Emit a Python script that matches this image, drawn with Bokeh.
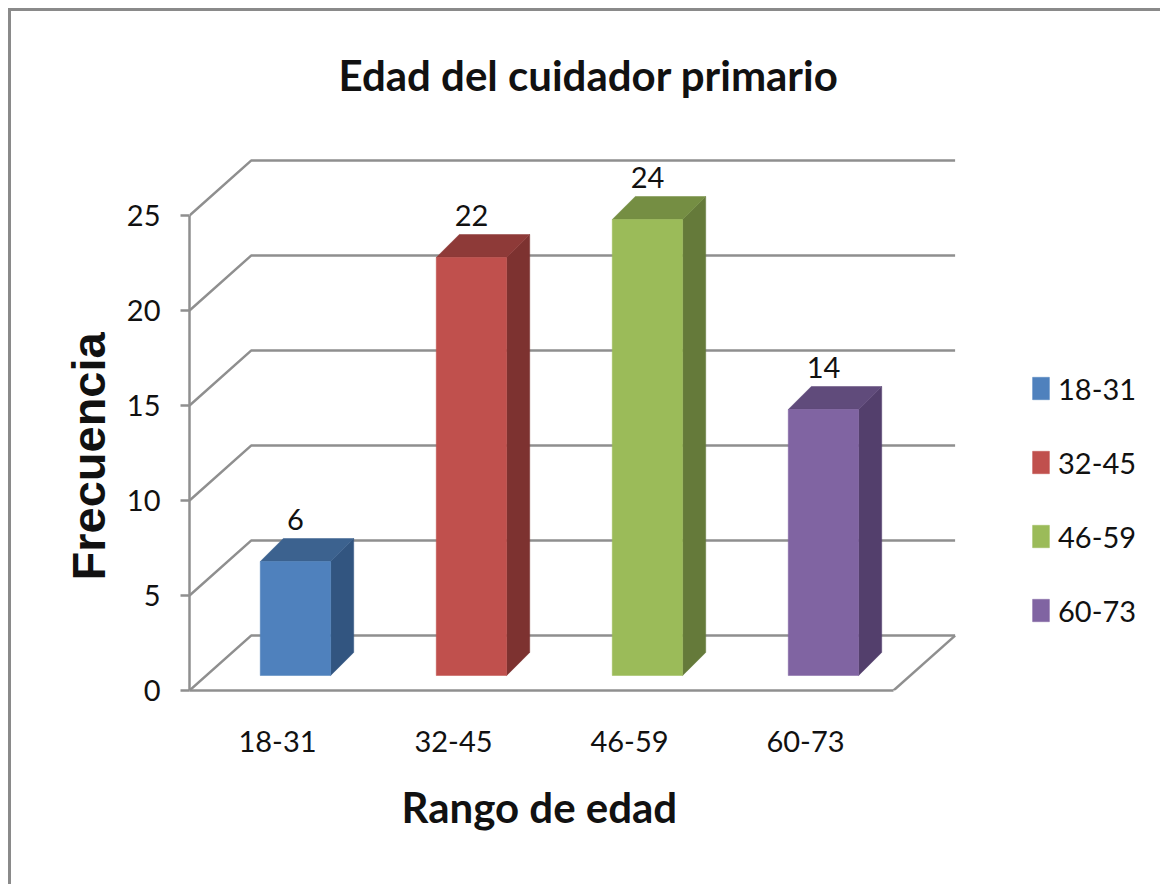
from bokeh.embed import file_html
from bokeh.resources import INLINE
from bokeh.plotting import figure
from bokeh.models import FixedTicker, Legend, LegendItem, LinearAxis, Range1d, Title
from bokeh.core.properties import value

# Chart data
categories = ["18-31", "32-45", "46-59", "60-73"]
frequencies = [6, 22, 24, 14]
y_ticks = [0, 5, 10, 15, 20, 25]

# Face colours of the bars: front, top, side
front_colors = ["#4f81bd", "#c0504d", "#9bbb59", "#8064a2"]
top_colors = ["#3c628f", "#8e3a38", "#758e43", "#604b7b"]
side_colors = ["#325580", "#7d3230", "#657a3a", "#533f6c"]

GRID = "#8f8f8f"
INK = "#111111"
REGULAR = "Lato"
REGULAR_SIZE = "29px"

# Pseudo-3D geometry, in axis units
WALL_DX, WALL_DY = 0.35, 2.89     # floor depth
BAR_DX, BAR_DY = 0.131, 1.21      # bar depth
BAR_BASE = 0.79                   # bars stand this far in front of the axis baseline
BAR_SHIFT, BAR_HALF = 0.102, 0.2  # bar centre relative to its tick, half width

p = figure(width=1160, height=884, frame_width=971, frame_height=540,
           x_range=Range1d(-0.5, -0.5 + 971 / 176), y_range=Range1d(0, 540 / 19),
           output_backend="svg", toolbar_location=None, x_axis_location=None,
           y_axis_location=None, min_border_left=189, min_border_right=0,
           min_border_top=150, min_border_bottom=194,
           background_fill_color=None, border_fill_color=None)
p.outline_line_color = None
p.grid.visible = False

# Thin rule along the top and left of the chart area, open to the right and bottom
p.styles = {
    "background": "linear-gradient(#8a8a8a,#8a8a8a) 8px 8px / 3px 100% no-repeat,"
                  "linear-gradient(#8a8a8a,#8a8a8a) 8px 8px / 100% 3px no-repeat",
}

p.title.text = "Edad del cuidador primario"
p.title.text_font = "Lato"
p.title.text_font_size = "42px"
p.title.text_font_style = "bold"
p.title.text_color = INK
p.title.align = "left"
p.title.vertical_align = "top"
p.title.offset = 149
p.title.standoff = 98

# Value axis on the front left edge
y_axis = LinearAxis(ticker=FixedTicker(ticks=y_ticks), bounds=(0, 25))
y_axis.axis_line_color = GRID
y_axis.axis_line_width = 2.5
y_axis.major_tick_line_color = GRID
y_axis.major_tick_line_width = 2.5
y_axis.major_tick_in = 0
y_axis.major_tick_out = 9
y_axis.minor_tick_line_color = None
y_axis.major_label_standoff = 20
y_axis.major_label_text_font = REGULAR
y_axis.major_label_text_font_size = REGULAR_SIZE
y_axis.major_label_text_color = INK
p.add_layout(y_axis, "left")

# Category axis on the front edge of the floor
x_ticks = list(range(len(categories)))
x_axis = LinearAxis(ticker=FixedTicker(ticks=x_ticks), bounds=(-0.5, 3.5))
x_axis.major_label_overrides = dict(zip(x_ticks, categories))
x_axis.axis_line_color = GRID
x_axis.axis_line_width = 2.5
x_axis.major_tick_line_color = None
x_axis.minor_tick_line_color = None
x_axis.major_label_standoff = 34
x_axis.major_label_text_font = REGULAR
x_axis.major_label_text_font_size = REGULAR_SIZE
x_axis.major_label_text_color = INK
p.add_layout(x_axis, "below")

# Axis titles sit off-centre relative to the plot frame, so they are side titles
p.add_layout(Title(text="Frecuencia", align="left", offset=110, standoff=17,
                   text_font="Liberation Sans", text_font_style="bold",
                   text_font_size="47px", text_color=INK), "left")
p.add_layout(Title(text="Rango de edad", align="left", offset=212, standoff=51,
                   text_font="Lato", text_font_style="bold",
                   text_font_size="42px", text_color=INK), "below")

# Back wall lines with their diagonals down to the value axis
for t in y_ticks:
    p.line([-0.5, -0.5 + WALL_DX, 3.5 + WALL_DX],
           [t, t + WALL_DY, t + WALL_DY], line_color=GRID, line_width=2.5)
# Right edge of the floor
p.line([3.5, 3.5 + WALL_DX], [0, WALL_DY], line_color=GRID, line_width=2.5)

# Bars: front, top and side faces
legend_items = []
for i, (name, v) in enumerate(zip(categories, frequencies)):
    left = i + BAR_SHIFT - BAR_HALF
    right = i + BAR_SHIFT + BAR_HALF
    base = BAR_BASE
    top = BAR_BASE + v
    p.patch([right, right + BAR_DX, right + BAR_DX, right],
            [base, base + BAR_DY, top + BAR_DY, top],
            fill_color=side_colors[i], line_color=side_colors[i], line_width=0.5)
    p.patch([left, left + BAR_DX, right + BAR_DX, right],
            [top, top + BAR_DY, top + BAR_DY, top],
            fill_color=top_colors[i], line_color=top_colors[i], line_width=0.5)
    front = p.quad(left=left, right=right, bottom=base, top=top,
                   fill_color=front_colors[i], line_color=front_colors[i], line_width=0.5)
    legend_items.append(LegendItem(label=value(name), renderers=[front]))

# Value labels just above each bar
p.text(x=[i + BAR_SHIFT for i in x_ticks],
       y=[BAR_BASE + v + BAR_DY for v in frequencies],
       text=[str(v) for v in frequencies],
       text_font=value(REGULAR), text_font_size=REGULAR_SIZE, text_color=INK,
       text_align="center", text_baseline="alphabetic", y_offset=-19)

legend = Legend(items=legend_items, location=(841, 60), orientation="vertical",
                glyph_width=21, glyph_height=28, label_standoff=7, spacing=34,
                padding=0, margin=0, border_line_color=None, background_fill_alpha=0,
                label_text_font=REGULAR, label_text_font_size=REGULAR_SIZE,
                label_text_color=INK, label_height=40)
p.add_layout(legend, "center")

open("out.html", "w").write(file_html(p, INLINE))
